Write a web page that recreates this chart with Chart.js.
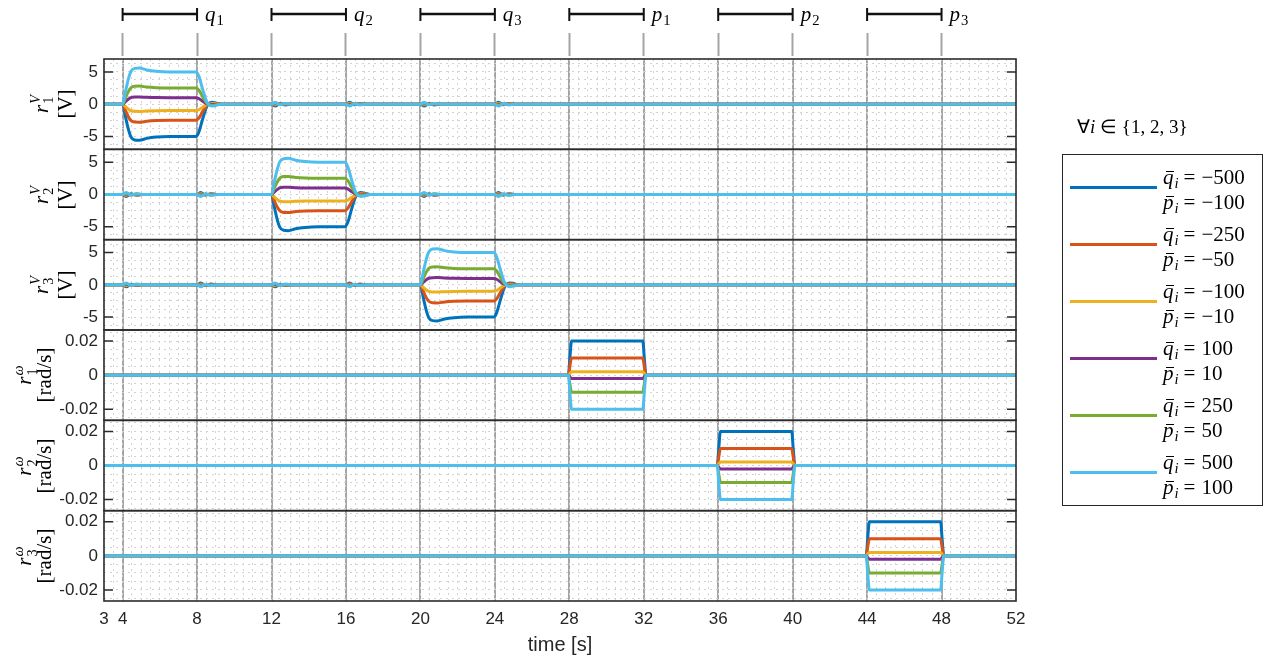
<!DOCTYPE html>
<html lang="en">
<head>
<meta charset="utf-8">
<title>Voltage and frequency references</title>
<script src="https://cdn.jsdelivr.net/npm/chart.js@4.4.1/dist/chart.umd.min.js"></script>
<style>
  html, body { margin: 0; padding: 0; background: #fff; }
  #wrap { position: relative; width: 1269px; height: 660px; overflow: hidden; }
  #plot { position: absolute; left: 0; top: 0; }
  .tex { position: absolute; font-family: 'Liberation Serif', 'Times New Roman', serif; color: #000; white-space: nowrap; }
  .tex i { font-style: italic; }
  .sub { font-size: 70%; position: relative; top: 0.3em; margin-left: 1px; }
  .eq { margin: 0 6px 0 5px; }
  .pair { display: inline-flex; flex-direction: column; vertical-align: middle; font-size: 68%; line-height: 0.95; text-align: left; margin-left: 1px; position: relative; top: -0.05em; }
  .ylab { transform: translate(-50%, -50%) rotate(-90deg); text-align: center; font-size: 21px; }
  .ylab div { line-height: 1; }
  .bar { position: relative; display: inline-block; }
  .bar::before { content: ''; position: absolute; left: 0.14em; right: 0.0em; top: 0.24em; border-top: 1.3px solid #000; }
  #legend { position: absolute; left: 1062px; top: 154px; width: 201px; height: 352px; border: 1.5px solid #262626; box-sizing: border-box; }
  .swatch { position: absolute; left: 7px; width: 87px; height: 3px; }
  .entry { position: absolute; left: 100px; font-size: 21px; line-height: 23px; }
</style>
</head>
<body>
<div id="wrap">
  <canvas id="plot" width="1269" height="660"></canvas>
  <div id="legend"></div>
</div>
<script>
// ---- axis ranges and tick labels ----
const X_MIN = 3, X_MAX = 52, X_MINOR_STEP = 0.5;
const X_TICKS = [3, 4, 8, 12, 16, 20, 24, 28, 32, 36, 40, 44, 48, 52];
const X_TICK_LABELS = ['3', '4', '8', '12', '16', '20', '24', '28', '32', '36', '40', '44', '48', '52'];

const V_LIM = 7;
const V_TICKS = [-5, 0, 5];
const V_TICK_LABELS = ['-5', '0', '5'];
const V_MINOR = [-6.25, -5, -3.75, -2.5, -1.25, 0, 1.25, 2.5, 3.75, 5, 6.25];

const W_LIM = 0.0265;
const W_TICKS = [-0.02, 0, 0.02];
const W_TICK_LABELS = ['-0.02', '0', '0.02'];
const W_MINOR = [-0.025, -0.02, -0.015, -0.01, -0.005, 0, 0.005, 0.01, 0.015, 0.02, 0.025];

// ---- step intervals marked above the plots ----
const STEP_START = [4, 12, 20, 28, 36, 44];
const STEP_END = [8, 16, 24, 32, 40, 48];
const STEP_SYMBOL = ['q', 'q', 'q', 'p', 'p', 'p'];
const STEP_INDEX = [1, 2, 3, 1, 2, 3];

// ---- series (legend) ----
const COLORS = ['#0072BD', '#D95319', '#EDB120', '#7E2F8E', '#77AC30', '#4DBEEE'];
const Q_BAR = ['−500', '−250', '−100', '100', '250', '500'];
const P_BAR = ['−100', '−50', '−10', '10', '50', '100'];

// ---- voltage references r_i^V [V] ----
const T_V1 = [3, 4, 4.15, 4.3, 4.45, 4.65, 4.9, 5.3, 5.8, 6.5, 7.95, 8.1, 8.3, 8.5, 8.62, 8.8, 9.0, 9.3,
  12, 12.2, 12.45, 12.75, 13.1, 16, 16.2, 16.45, 16.75, 17.1, 20, 20.2, 20.45, 20.75, 21.1, 24, 24.2, 24.45, 24.75, 25.1, 52];
const V1_BL = [0, 0, -1.9, -3.8, -5.1, -5.55, -5.6, -5.3, -5.1, -5.0, -5.0, -4.3, -2.3, -0.5, 0.05, 0.3, 0.2, 0,
  0, -0.3, 0.1, -0.12, 0, 0, 0.3, -0.1, 0.12, 0, 0, -0.3, 0.1, -0.12, 0, 0, 0.3, -0.1, 0.12, 0, 0];
const V1_OR = [0, 0, -0.95, -1.9, -2.55, -2.78, -2.8, -2.65, -2.55, -2.5, -2.5, -2.15, -1.15, -0.25, 0.03, 0.15, 0.1, 0,
  0, -0.15, 0.05, -0.06, 0, 0, 0.15, -0.05, 0.06, 0, 0, -0.15, 0.05, -0.06, 0, 0, 0.15, -0.05, 0.06, 0, 0];
const V1_YE = [0, 0, -0.38, -0.76, -1.02, -1.11, -1.12, -1.06, -1.02, -1.0, -1.0, -0.86, -0.46, -0.1, 0.01, 0.06, 0.04, 0,
  0, -0.06, 0.02, -0.03, 0, 0, 0.06, -0.02, 0.03, 0, 0, -0.06, 0.02, -0.03, 0, 0, 0.06, -0.02, 0.03, 0, 0];
const V1_PU = [0, 0, 0.38, 0.76, 1.02, 1.11, 1.12, 1.06, 1.02, 1.0, 1.0, 0.86, 0.46, 0.1, -0.01, -0.06, -0.04, 0,
  0, 0.06, -0.02, 0.03, 0, 0, -0.06, 0.02, -0.03, 0, 0, 0.06, -0.02, 0.03, 0, 0, -0.06, 0.02, -0.03, 0, 0];
const V1_GR = [0, 0, 0.95, 1.9, 2.55, 2.78, 2.8, 2.65, 2.55, 2.5, 2.5, 2.15, 1.15, 0.25, -0.03, -0.15, -0.1, 0,
  0, 0.15, -0.05, 0.06, 0, 0, -0.15, 0.05, -0.06, 0, 0, 0.15, -0.05, 0.06, 0, 0, -0.15, 0.05, -0.06, 0, 0];
const V1_LB = [0, 0, 1.9, 3.8, 5.1, 5.55, 5.6, 5.3, 5.1, 5.0, 5.0, 4.3, 2.3, 0.5, -0.05, -0.3, -0.2, 0,
  0, 0.3, -0.1, 0.12, 0, 0, -0.3, 0.1, -0.12, 0, 0, 0.3, -0.1, 0.12, 0, 0, -0.3, 0.1, -0.12, 0, 0];

const T_V2 = [3, 4, 4.2, 4.45, 4.75, 5.1, 8, 8.2, 8.45, 8.75, 9.1,
  12, 12.15, 12.3, 12.45, 12.65, 12.9, 13.3, 13.8, 14.5, 15.95, 16.1, 16.3, 16.5, 16.62, 16.8, 17.0, 17.3,
  20, 20.2, 20.45, 20.75, 21.1, 24, 24.2, 24.45, 24.75, 25.1, 52];
const V2_BL = [0, 0, -0.3, 0.1, -0.12, 0, 0, 0.3, -0.1, 0.12, 0,
  0, -1.9, -3.8, -5.1, -5.55, -5.6, -5.3, -5.1, -5.0, -5.0, -4.3, -2.3, -0.5, 0.05, 0.3, 0.2, 0,
  0, -0.3, 0.1, -0.12, 0, 0, 0.3, -0.1, 0.12, 0, 0];
const V2_OR = [0, 0, -0.15, 0.05, -0.06, 0, 0, 0.15, -0.05, 0.06, 0,
  0, -0.95, -1.9, -2.55, -2.78, -2.8, -2.65, -2.55, -2.5, -2.5, -2.15, -1.15, -0.25, 0.03, 0.15, 0.1, 0,
  0, -0.15, 0.05, -0.06, 0, 0, 0.15, -0.05, 0.06, 0, 0];
const V2_YE = [0, 0, -0.06, 0.02, -0.03, 0, 0, 0.06, -0.02, 0.03, 0,
  0, -0.38, -0.76, -1.02, -1.11, -1.12, -1.06, -1.02, -1.0, -1.0, -0.86, -0.46, -0.1, 0.01, 0.06, 0.04, 0,
  0, -0.06, 0.02, -0.03, 0, 0, 0.06, -0.02, 0.03, 0, 0];
const V2_PU = [0, 0, 0.06, -0.02, 0.03, 0, 0, -0.06, 0.02, -0.03, 0,
  0, 0.38, 0.76, 1.02, 1.11, 1.12, 1.06, 1.02, 1.0, 1.0, 0.86, 0.46, 0.1, -0.01, -0.06, -0.04, 0,
  0, 0.06, -0.02, 0.03, 0, 0, -0.06, 0.02, -0.03, 0, 0];
const V2_GR = [0, 0, 0.15, -0.05, 0.06, 0, 0, -0.15, 0.05, -0.06, 0,
  0, 0.95, 1.9, 2.55, 2.78, 2.8, 2.65, 2.55, 2.5, 2.5, 2.15, 1.15, 0.25, -0.03, -0.15, -0.1, 0,
  0, 0.15, -0.05, 0.06, 0, 0, -0.15, 0.05, -0.06, 0, 0];
const V2_LB = [0, 0, 0.3, -0.1, 0.12, 0, 0, -0.3, 0.1, -0.12, 0,
  0, 1.9, 3.8, 5.1, 5.55, 5.6, 5.3, 5.1, 5.0, 5.0, 4.3, 2.3, 0.5, -0.05, -0.3, -0.2, 0,
  0, 0.3, -0.1, 0.12, 0, 0, -0.3, 0.1, -0.12, 0, 0];

const T_V3 = [3, 4, 4.2, 4.45, 4.75, 5.1, 8, 8.2, 8.45, 8.75, 9.1, 12, 12.2, 12.45, 12.75, 13.1, 16, 16.2, 16.45, 16.75, 17.1,
  20, 20.15, 20.3, 20.45, 20.65, 20.9, 21.3, 21.8, 22.5, 23.95, 24.1, 24.3, 24.5, 24.62, 24.8, 25.0, 25.3, 52];
const V3_BL = [0, 0, -0.3, 0.1, -0.12, 0, 0, 0.3, -0.1, 0.12, 0, 0, -0.3, 0.1, -0.12, 0, 0, 0.3, -0.1, 0.12, 0,
  0, -1.9, -3.8, -5.1, -5.55, -5.6, -5.3, -5.1, -5.0, -5.0, -4.3, -2.3, -0.5, 0.05, 0.3, 0.2, 0, 0];
const V3_OR = [0, 0, -0.15, 0.05, -0.06, 0, 0, 0.15, -0.05, 0.06, 0, 0, -0.15, 0.05, -0.06, 0, 0, 0.15, -0.05, 0.06, 0,
  0, -0.95, -1.9, -2.55, -2.78, -2.8, -2.65, -2.55, -2.5, -2.5, -2.15, -1.15, -0.25, 0.03, 0.15, 0.1, 0, 0];
const V3_YE = [0, 0, -0.06, 0.02, -0.03, 0, 0, 0.06, -0.02, 0.03, 0, 0, -0.06, 0.02, -0.03, 0, 0, 0.06, -0.02, 0.03, 0,
  0, -0.38, -0.76, -1.02, -1.11, -1.12, -1.06, -1.02, -1.0, -1.0, -0.86, -0.46, -0.1, 0.01, 0.06, 0.04, 0, 0];
const V3_PU = [0, 0, 0.06, -0.02, 0.03, 0, 0, -0.06, 0.02, -0.03, 0, 0, 0.06, -0.02, 0.03, 0, 0, -0.06, 0.02, -0.03, 0,
  0, 0.38, 0.76, 1.02, 1.11, 1.12, 1.06, 1.02, 1.0, 1.0, 0.86, 0.46, 0.1, -0.01, -0.06, -0.04, 0, 0];
const V3_GR = [0, 0, 0.15, -0.05, 0.06, 0, 0, -0.15, 0.05, -0.06, 0, 0, 0.15, -0.05, 0.06, 0, 0, -0.15, 0.05, -0.06, 0,
  0, 0.95, 1.9, 2.55, 2.78, 2.8, 2.65, 2.55, 2.5, 2.5, 2.15, 1.15, 0.25, -0.03, -0.15, -0.1, 0, 0];
const V3_LB = [0, 0, 0.3, -0.1, 0.12, 0, 0, -0.3, 0.1, -0.12, 0, 0, 0.3, -0.1, 0.12, 0, 0, -0.3, 0.1, -0.12, 0,
  0, 1.9, 3.8, 5.1, 5.55, 5.6, 5.3, 5.1, 5.0, 5.0, 4.3, 2.3, 0.5, -0.05, -0.3, -0.2, 0, 0];

// ---- frequency references r_i^omega [rad/s] ----
const T_W1 = [3, 27.95, 28.03, 28.12, 31.95, 32.03, 32.12, 52];
const T_W2 = [3, 35.95, 36.03, 36.12, 39.95, 40.03, 40.12, 52];
const T_W3 = [3, 43.95, 44.03, 44.12, 47.95, 48.03, 48.12, 52];
const W_BL = [0, 0, 0.01, 0.02, 0.02, 0.01, 0, 0];
const W_OR = [0, 0, 0.005, 0.01, 0.01, 0.005, 0, 0];
const W_YE = [0, 0, 0.001, 0.002, 0.002, 0.001, 0, 0];
const W_PU = [0, 0, -0.001, -0.002, -0.002, -0.001, 0, 0];
const W_GR = [0, 0, -0.005, -0.01, -0.01, -0.005, 0, 0];
const W_LB = [0, 0, -0.01, -0.02, -0.02, -0.01, 0, 0];

// panels from top to bottom
const PANELS = [
  { id: 'v1', sym: 'V', idx: 1, unit: '[V]', t: T_V1, vals: [V1_BL, V1_OR, V1_YE, V1_PU, V1_GR, V1_LB], lim: V_LIM, major: V_TICKS, labels: V_TICK_LABELS, minor: V_MINOR },
  { id: 'v2', sym: 'V', idx: 2, unit: '[V]', t: T_V2, vals: [V2_BL, V2_OR, V2_YE, V2_PU, V2_GR, V2_LB], lim: V_LIM, major: V_TICKS, labels: V_TICK_LABELS, minor: V_MINOR },
  { id: 'v3', sym: 'V', idx: 3, unit: '[V]', t: T_V3, vals: [V3_BL, V3_OR, V3_YE, V3_PU, V3_GR, V3_LB], lim: V_LIM, major: V_TICKS, labels: V_TICK_LABELS, minor: V_MINOR },
  { id: 'w1', sym: 'ω', idx: 1, unit: '[rad/s]', t: T_W1, vals: [W_BL, W_OR, W_YE, W_PU, W_GR, W_LB], lim: W_LIM, major: W_TICKS, labels: W_TICK_LABELS, minor: W_MINOR },
  { id: 'w2', sym: 'ω', idx: 2, unit: '[rad/s]', t: T_W2, vals: [W_BL, W_OR, W_YE, W_PU, W_GR, W_LB], lim: W_LIM, major: W_TICKS, labels: W_TICK_LABELS, minor: W_MINOR },
  { id: 'w3', sym: 'ω', idx: 3, unit: '[rad/s]', t: T_W3, vals: [W_BL, W_OR, W_YE, W_PU, W_GR, W_LB], lim: W_LIM, major: W_TICKS, labels: W_TICK_LABELS, minor: W_MINOR }
];

// ---- styling ----
const AXIS_W = 104;
const TEXT = '#262626';
const GRID_MAJOR = '#a5a5a5';
const GRID_MINOR = '#d2d2d2';
const FRAME = '#2b2b2b';
const SANS = "'Liberation Sans', Arial, Helvetica, sans-serif";

const datasets = [];
PANELS.forEach(p => {
  p.vals.forEach((vals, k) => {
    datasets.push({
      label: 'q=' + Q_BAR[k] + ', p=' + P_BAR[k],
      data: p.t.map((x, i) => ({ x: x, y: vals[i] })),
      xAxisID: 'x',
      yAxisID: p.id,
      borderColor: COLORS[k],
      backgroundColor: COLORS[k],
      borderWidth: 3,
      pointRadius: 0,
      fill: false,
      cubicInterpolationMode: 'monotone',
      order: COLORS.length - k
    });
  });
});

const scales = {
  x: {
    type: 'linear', position: 'bottom', min: X_MIN, max: X_MAX,
    afterBuildTicks: s => { s.ticks = X_TICKS.map(v => ({ value: v })); },
    afterFit: s => { s.height = 59; },
    grid: {
      color: c => (c.tick && (c.tick.value === X_MIN || c.tick.value === X_MAX)) ? 'rgba(0,0,0,0)' : GRID_MAJOR,
      lineWidth: 2, drawTicks: false
    },
    border: { display: false },
    ticks: { autoSkip: false, maxRotation: 0, padding: 8, color: TEXT, font: { family: SANS, size: 17 },
      callback: (v, i) => X_TICK_LABELS[i] },
    title: { display: true, text: 'time [s]', color: TEXT, font: { family: SANS, size: 20 }, padding: { top: 0, bottom: 3 } }
  },
  xm: {
    type: 'linear', position: 'bottom', min: X_MIN, max: X_MAX,
    afterBuildTicks: s => {
      const t = [];
      for (let v = X_MIN; v <= X_MAX + 1e-9; v += X_MINOR_STEP) t.push({ value: v });
      s.ticks = t;
    },
    afterFit: s => { s.height = 0; },
    grid: { color: GRID_MINOR, lineWidth: 1, drawTicks: false },
    border: { display: false, dash: [2, 4] },
    ticks: { display: false }
  },
  xt: {
    type: 'linear', position: 'top', min: X_MIN, max: X_MAX,
    afterBuildTicks: s => { s.ticks = STEP_START.concat(STEP_END).map(v => ({ value: v })); },
    afterFit: s => { s.height = 30; },
    grid: { drawOnChartArea: false, drawTicks: true, tickLength: 26, tickColor: GRID_MAJOR, tickWidth: 2 },
    border: { display: true, width: 7, color: 'rgba(0,0,0,0)' },
    ticks: { display: false }
  }
};

// stacked panels: the last defined sits on top, so add them bottom-up
PANELS.slice().reverse().forEach(p => {
  scales[p.id] = {
    type: 'linear', position: 'left', stack: 'panels', stackWeight: 1,
    min: -p.lim, max: p.lim,
    afterBuildTicks: s => { s.ticks = p.minor.map(v => ({ value: v })); },
    afterFit: s => { s.width = AXIS_W; },
    grid: { color: GRID_MINOR, lineWidth: 1, drawTicks: false },
    border: { display: false, dash: [2, 4] },
    ticks: { autoSkip: false, padding: 6, color: TEXT, font: { family: SANS, size: 17 },
      callback: v => { const i = p.major.indexOf(v); return i < 0 ? '' : p.labels[i]; } }
  };
});

// inward y ticks under the data, panel boxes and step brackets above it
const framePlugin = {
  id: 'panelFrames',
  beforeDatasetsDraw(chart) {
    const { ctx, chartArea } = chart;
    const L = chartArea.left, R = chartArea.right;
    ctx.save();
    ctx.strokeStyle = FRAME;
    ctx.lineWidth = 1.5;
    PANELS.forEach(p => {
      const s = chart.scales[p.id];
      p.major.forEach(v => {
        const y = s.getPixelForValue(v);
        ctx.beginPath();
        ctx.moveTo(L, y); ctx.lineTo(L + 9, y);
        ctx.moveTo(R - 9, y); ctx.lineTo(R, y);
        ctx.stroke();
      });
    });
    ctx.restore();
  },
  afterDatasetsDraw(chart) {
    const { ctx, chartArea } = chart;
    const L = chartArea.left, R = chartArea.right;
    ctx.save();
    ctx.strokeStyle = FRAME;
    ctx.lineWidth = 1.6;
    PANELS.forEach(p => {
      const s = chart.scales[p.id];
      ctx.strokeRect(L, s.top, R - L, s.bottom - s.top);
    });
    // step brackets
    const xs = chart.scales.x;
    ctx.strokeStyle = '#111';
    STEP_START.forEach((a, i) => {
      const xa = xs.getPixelForValue(a), xb = xs.getPixelForValue(STEP_END[i]);
      ctx.lineWidth = 2.6;
      ctx.beginPath(); ctx.moveTo(xa, 14); ctx.lineTo(xb, 14); ctx.stroke();
      ctx.lineWidth = 2;
      ctx.beginPath();
      ctx.moveTo(xa, 8); ctx.lineTo(xa, 21);
      ctx.moveTo(xb, 8); ctx.lineTo(xb, 21);
      ctx.stroke();
    });
    ctx.restore();
  }
};

const chart = new Chart(document.getElementById('plot'), {
  type: 'line',
  data: { datasets: datasets },
  options: {
    responsive: false,
    animation: false,
    devicePixelRatio: 1,
    layout: { padding: { left: 0, right: 253, top: 29, bottom: 0 } },
    plugins: { legend: { display: false }, tooltip: { enabled: false }, title: { display: false } },
    scales: scales
  },
  plugins: [framePlugin]
});

// ---- text overlays: axis labels, step labels, legend ----
const wrap = document.getElementById('wrap');
function addTex(html, css) {
  const d = document.createElement('div');
  d.className = 'tex';
  d.innerHTML = html;
  Object.assign(d.style, css);
  wrap.appendChild(d);
  return d;
}

PANELS.forEach(p => {
  const s = chart.scales[p.id];
  const cy = (s.top + s.bottom) / 2;
  const isV = p.sym === 'V';
  const d = addTex(
    '<div style="height:' + (isV ? 27 : 21) + 'px;line-height:' + (isV ? 27 : 21) + 'px"><i>r</i><span class="pair"><i>' + p.sym + '</i><span>' + p.idx + '</span></span></div>' +
    '<div style="line-height:21px">' + p.unit + '</div>',
    { left: (isV ? 52 : 34) + 'px', top: cy + 'px' });
  d.classList.add('ylab');
});

STEP_START.forEach((a, i) => {
  const xb = chart.scales.x.getPixelForValue(STEP_END[i]);
  addTex('<i>' + STEP_SYMBOL[i] + '</i><span class="sub">' + STEP_INDEX[i] + '</span>',
    { left: (xb + 8) + 'px', top: '2px', fontSize: '21px' });
});

addTex('∀<i>i</i> ∈ {1, 2, 3}', { left: '1077px', top: '115px', fontSize: '19px' });

const legend = document.getElementById('legend');
COLORS.forEach((c, k) => {
  const sw = document.createElement('div');
  sw.className = 'swatch';
  sw.style.top = (31 + 57 * k) + 'px';
  sw.style.background = c;
  legend.appendChild(sw);
  const e = document.createElement('div');
  e.className = 'tex entry';
  e.style.top = (11 + 57 * k) + 'px';
  e.innerHTML = '<div><span class="bar"><i>q</i></span><span class="sub"><i>i</i></span><span class="eq">=</span>' + Q_BAR[k] + '</div>' +
                '<div><span class="bar"><i>p</i></span><span class="sub"><i>i</i></span><span class="eq">=</span>' + P_BAR[k] + '</div>';
  legend.appendChild(e);
});
</script>
</body>
</html>
